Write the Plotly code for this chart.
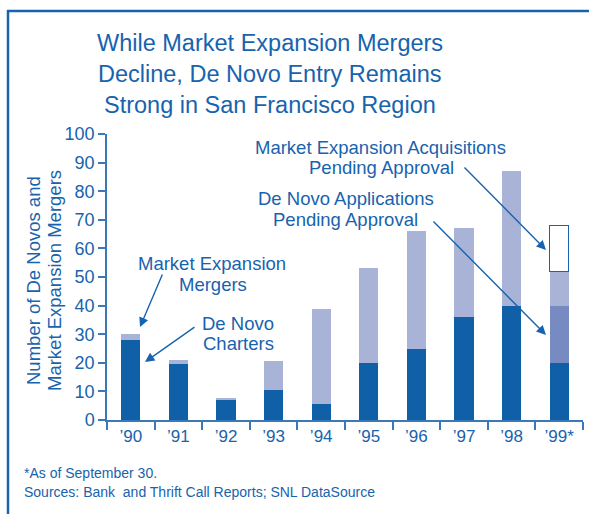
import plotly.graph_objects as go

years = ["\u201990", "\u201991", "\u201992", "\u201993", "\u201994",
         "\u201995", "\u201996", "\u201997", "\u201998", "\u201999*"]
de_novo_charters = [28, 19.6, 7, 10.5, 5.6, 20, 24.8, 36, 40, 20]
de_novo_pending = [None, None, None, None, None, None, None, None, None, 20]
expansion_mergers = [2, 1.4, 0.8, 10.2, 33.2, 33, 41.2, 31, 47, 12]
acquisitions_pending = [None, None, None, None, None, None, None, None, None, 16]
y_ticks = [0, 10, 20, 30, 40, 50, 60, 70, 80, 90, 100]

BLUE = "#1763ad"
AXIS = "#3a78b8"
DARK = "#1060a8"
MED = "#788ac2"
LIGHT = "#a9b3d7"
FONT = "Liberation Sans, Arial, sans-serif"

L, R, T, B = 107, 6, 134, 94
W, H = 589, 514
PW = W - L - R
PH = H - T - B


def px(x):
    return (x - L) / PW


def py(y):
    return (H - B - y) / PH


fig = go.Figure()
bw = 0.4
fig.add_bar(x=years, y=de_novo_charters, marker_color=DARK, width=bw,
            marker_line_width=0, name="De Novo Charters")
fig.add_bar(x=years, y=de_novo_pending, marker_color=MED, width=bw,
            marker_line_width=0, name="De Novo Applications Pending")
fig.add_bar(x=years, y=expansion_mergers, marker_color=LIGHT, width=bw,
            marker_line_width=0, name="Market Expansion Mergers")
fig.add_bar(x=years, y=acquisitions_pending, marker_color="white", width=bw,
            marker_line=dict(color=BLUE, width=1.5),
            name="Market Expansion Acquisitions Pending")

ann = []


def text(s, x, y, size, xanchor="center", angle=0):
    ann.append(dict(text=s, x=px(x), y=py(y), xref="paper", yref="paper",
                    showarrow=False, xanchor=xanchor, yanchor="middle",
                    textangle=angle,
                    font=dict(family=FONT, size=size, color=BLUE)))


def arrow(hx, hy, tx, ty):
    ann.append(dict(text="", x=px(hx), y=py(hy), xref="paper", yref="paper",
                    showarrow=True, ax=tx - hx, ay=ty - hy,
                    arrowhead=2, arrowsize=1.35, arrowwidth=1.4,
                    arrowcolor=BLUE, standoff=0, startstandoff=0))


# title
text("While Market Expansion Mergers", 270, 43, 23.5)
text("Decline, De Novo Entry Remains", 270, 74, 23.5)
text("Strong in San Francisco Region", 270, 105, 23.5)

# callouts
text("Market Expansion", 212, 263, 18.5)
text("Mergers", 213, 284, 18.5)
text("De Novo", 238, 323, 18.5)
text("Charters", 238, 343, 18.5)
text("Market Expansion Acquisitions", 380, 147, 18.5)
text("Pending Approval", 381, 167, 18.5)
text("De Novo Applications", 346, 198, 18.5)
text("Pending Approval", 345, 219, 18.5)

arrow(140, 327, 163, 273)
arrow(145, 362, 196, 326)
arrow(546, 250, 463, 166)
arrow(546, 335, 432, 220)

# y-axis title (two rotated lines)
text("Number of De Novos and", 33, 281, 18.5, "center", -90)
text("Market Expansion Mergers", 54, 281, 18.5, "center", -90)

# footnotes
text("*As of September 30.", 22, 473, 14, "left")
text("Sources: Bank\u00a0 and Thrift Call Reports; SNL DataSource", 22, 492, 14, "left")

shapes = [
    dict(type="line", xref="paper", yref="paper", x0=px(8), x1=px(8),
         y0=py(10), y1=py(520), line=dict(color=BLUE, width=2.5)),
    dict(type="line", xref="paper", yref="paper", x0=px(7), x1=px(600),
         y0=py(11), y1=py(11), line=dict(color=BLUE, width=2.5)),
]

fig.update_layout(
    width=W, height=H, margin=dict(l=L, r=R, t=T, b=B, pad=0),
    barmode="stack", bargap=0.6, showlegend=False,
    plot_bgcolor="white", paper_bgcolor="white",
    annotations=ann, shapes=shapes,
    font=dict(family=FONT, color=BLUE),
)
fig.update_xaxes(showline=True, linecolor=AXIS, linewidth=1.5,
                 ticks="outside", tickson="boundaries", ticklen=8,
                 tickcolor=AXIS, tickwidth=1.5,
                 tickfont=dict(family=FONT, size=17, color=BLUE),
                 showgrid=False, range=[-0.5, 9.5])
fig.update_yaxes(showline=True, linecolor=AXIS, linewidth=1.5,
                 ticks="outside", ticklen=7, tickcolor=AXIS, tickwidth=1.5,
                 tickvals=y_ticks, range=[0, 100],
                 tickfont=dict(family=FONT, size=18, color=BLUE),
                 showgrid=False, zeroline=False)

fig.write_html(
    "out.html",
    config={"displayModeBar": False},
    post_script="document.body.style.margin='0';document.body.style.overflow='hidden';",
)
